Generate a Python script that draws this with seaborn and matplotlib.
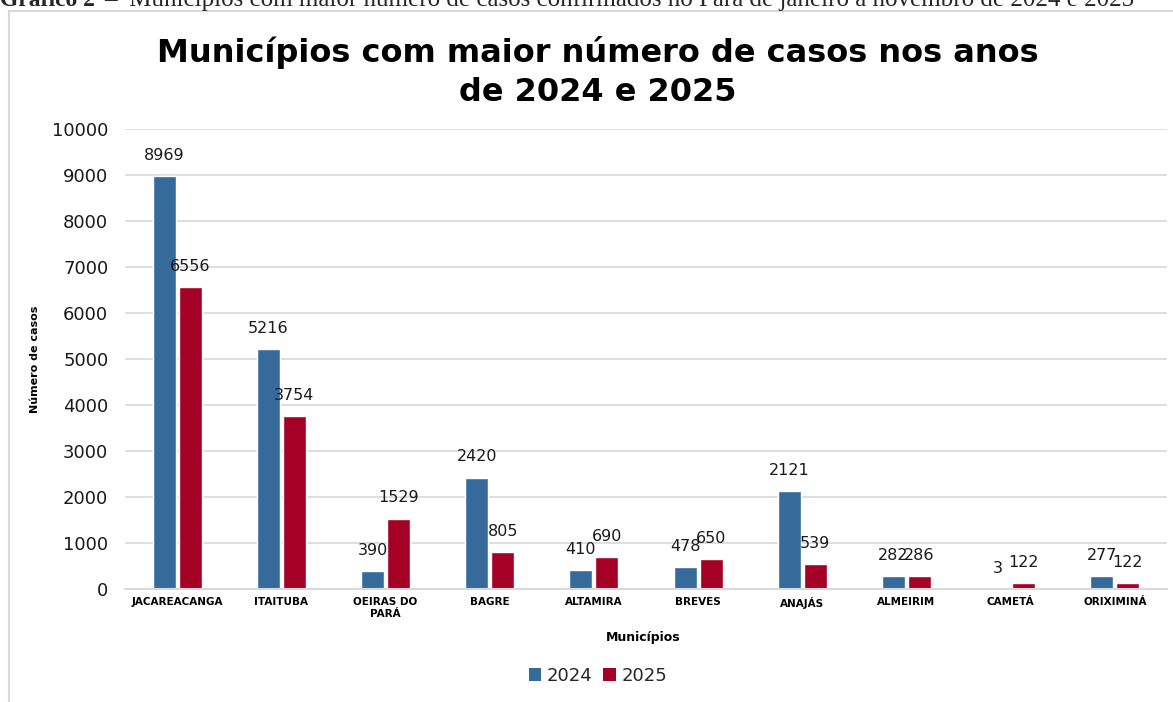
import matplotlib
matplotlib.use("Agg")
import matplotlib.pyplot as plt
from matplotlib.patches import Rectangle, Patch
import pandas as pd
import seaborn as sns

# dados
municipios = ["JACAREACANGA", "ITAITUBA", "OEIRAS DO\nPARÁ", "BAGRE", "ALTAMIRA",
              "BREVES", "ANAJÁS", "ALMEIRIM", "CAMETÁ", "ORIXIMINÁ"]
casos_2024 = [8969, 5216, 390, 2420, 410, 478, 2121, 282, 3, 277]
casos_2025 = [6556, 3754, 1529, 805, 690, 650, 539, 286, 122, 122]
anos = ["2024", "2025"]
cores = ["#366A9B", "#A50026"]

df = pd.DataFrame({
    "municipio": municipios * 2,
    "casos": casos_2024 + casos_2025,
    "ano": [anos[0]] * len(municipios) + [anos[1]] * len(municipios),
})

sns.set_theme(style="white")
plt.rcParams['font.family'] = ['DejaVu Sans']

fig = plt.figure(figsize=(11.73, 7.02), dpi=100)
W, H = 1173, 702
ax = fig.add_axes([125 / W, 1 - 589 / H, 1042 / W, 460 / H])

sns.barplot(data=df, x="municipio", y="casos", hue="ano", palette=cores,
            width=0.5, gap=0.12, ax=ax, legend=False, saturation=1)

for cont in ax.containers:
    ax.bar_label(cont, padding=9.5, fontsize=11.5, color="#1a1a1a")

ax.set_ylim(0, 10000)
ax.set_xlim(-0.5, len(municipios) - 0.5)
ax.set_yticks(range(0, 10001, 1000))
ax.grid(axis="y", color="#D9D9D9", linewidth=1.2)
ax.set_axisbelow(True)
for s in ["top", "right", "left"]:
    ax.spines[s].set_visible(False)
ax.spines["bottom"].set_color("#D9D9D9")
ax.spines["bottom"].set_linewidth(1.5)
ax.tick_params(axis="y", length=0, pad=12, labelsize=13, labelcolor="#1a1a1a")
ax.tick_params(axis="x", length=0, pad=6, labelcolor="#000000")
for lbl in ax.get_xticklabels():
    lbl.set_fontsize(7.5)
    lbl.set_fontweight("bold")
    lbl.set_linespacing(1.15)

ax.set_ylabel("Número de casos", fontsize=8, fontweight="bold", color="black")
ax.yaxis.set_label_coords((40 - 125) / 1042, 0.5)
ax.set_xlabel("Municípios", fontsize=9, fontweight="bold", color="black")
ax.xaxis.set_label_coords((643 - 125) / 1042, -(631 - 589) / 460)

# título
fig.text(598 / W, 1 - 72 / H, "Municípios com maior número de casos nos anos\nde 2024 e 2025",
         ha="center", va="center", fontsize=23, fontweight="bold", linespacing=1.3,
         color="black")

# legenda
handles = [Patch(facecolor=c, edgecolor="none") for c in cores]
fig.legend(handles, anos, loc="center", bbox_to_anchor=(598 / W, 1 - 676 / H), ncol=2,
           frameon=False, fontsize=13, handlelength=0.7, handleheight=0.7,
           handletextpad=0.3, columnspacing=0.6)

# moldura do gráfico
fig.patches.append(Rectangle((9 / W, -0.1), 1.2, 1 - 11 / H + 0.1, transform=fig.transFigure,
                             fill=False, edgecolor="#D9D9D9", linewidth=1.5))

# legenda do documento (cortada no topo)
fig.text(0, 1 - 6 / H, "Gráfico 2", fontsize=17, fontweight="bold",
         family="Liberation Serif", va="baseline")
fig.text(104 / W, 1 - 6 / H,
         "–  Municípios com maior número de casos confirmados no Pará de janeiro a novembro de 2024 e 2025",
         fontsize=18, family="Liberation Serif", va="baseline")

fig.savefig("out.png", dpi=100)
